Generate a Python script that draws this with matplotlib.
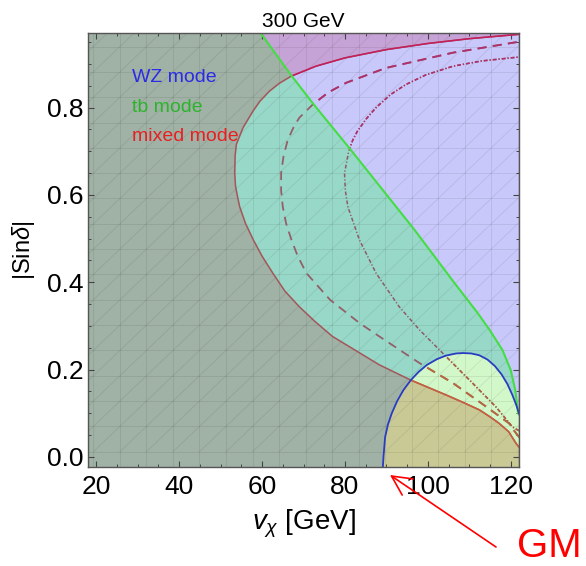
import numpy as np
import matplotlib
matplotlib.use('Agg')
import matplotlib.pyplot as plt
from matplotlib.patches import Polygon
from matplotlib.ticker import MultipleLocator

plt.rcParams['font.family'] = ['Liberation Sans', 'DejaVu Sans']
plt.rcParams['mathtext.fontset'] = 'custom'
plt.rcParams['mathtext.rm'] = 'Liberation Sans'
plt.rcParams['mathtext.it'] = 'Liberation Sans:italic'

# ---------------- data ----------------
title = "300 GeV"
xticks = [20, 40, 60, 80, 100, 120]
yticks = [0.0, 0.2, 0.4, 0.6, 0.8]
mode_labels = ["WZ mode", "tb mode", "mixed mode"]

# green boundary (tb mode): x as function of |sin delta|
green_y = [0.100, 0.153, 0.199, 0.245, 0.291, 0.330, 0.400, 0.520, 0.707, 0.807, 0.872, 0.969, 0.985]
green_x = [121.8, 121.1, 120.0, 118.0, 114.9, 112.0, 106.3, 96.8, 81.1, 72.5, 67.2, 59.8, 58.6]

# solid red boundary (mixed mode)
red_y = [0.020, 0.031, 0.058, 0.077, 0.092, 0.108, 0.125, 0.142, 0.176, 0.211, 0.276, 0.310,
         0.344, 0.380, 0.421, 0.460, 0.497, 0.535, 0.573, 0.600, 0.620, 0.650, 0.690, 0.716,
         0.754, 0.792, 0.815, 0.838, 0.856, 0.872, 0.895, 0.914, 0.933, 0.947, 0.958, 0.968]
red_x = [122.2, 121.3, 119.5, 117.2, 115.0, 112.4, 108.5, 104.4, 95.9, 88.3, 77.0, 72.8,
         69.0, 65.5, 62.6, 60.0, 57.9, 56.0, 54.6, 54.0, 53.6, 53.4, 53.5, 53.8,
         55.4, 57.8, 59.5, 61.8, 64.2, 67.0, 73.0, 80.0, 90.0, 100.0, 110.0, 122.0]

# dashed red curve
dash_y = [0.045, 0.054, 0.077, 0.115, 0.169, 0.215, 0.276, 0.306, 0.360, 0.421, 0.460, 0.497,
          0.535, 0.573, 0.610, 0.650, 0.690, 0.726, 0.757, 0.777, 0.807, 0.835, 0.857, 0.891,
          0.926, 0.951]
dash_x = [122.1, 121.3, 119.6, 114.1, 106.1, 98.0, 88.3, 83.6, 76.4, 70.7, 68.6, 67.1,
          65.8, 65.0, 64.6, 64.6, 65.2, 66.2, 67.7, 69.0, 72.2, 76.0, 80.3, 89.9,
          106.1, 122.0]

# dot-dashed red curve
dd_y = [0.060, 0.069, 0.115, 0.169, 0.230, 0.291, 0.344, 0.421, 0.497, 0.573, 0.610, 0.650,
        0.700, 0.726, 0.746, 0.775, 0.800, 0.830, 0.853, 0.875, 0.895, 0.907, 0.916]
dd_x = [122.0, 120.4, 116.4, 110.8, 104.4, 98.0, 93.1, 87.5, 83.5, 80.7, 80.1, 79.9,
        80.9, 81.9, 83.0, 85.2, 87.5, 91.0, 94.7, 99.5, 106.1, 113.0, 122.0]

# blue boundary (WZ mode), upper edge as function of v_chi
ell_x = [89.1, 89.3, 89.7, 90.4, 91.3, 92.6, 94.1, 95.9, 97.8, 99.8, 102.2, 104.3, 106.8,
         108.5, 110.5, 112.4, 114.4, 116.2, 117.8, 119.2, 120.4, 121.3, 122.2]
ell_y = [-0.030, 0.000, 0.046, 0.075, 0.100, 0.128, 0.153, 0.176, 0.195, 0.211, 0.224, 0.232, 0.237,
         0.238, 0.237, 0.233, 0.223, 0.208, 0.189, 0.167, 0.142, 0.120, 0.094]

# ---------------- colours ----------------
c_lav = '#C8C8FA'
c_purple = '#C6A3D6'
c_teal = '#98D8C8'
c_gray = '#A0B1A5'
c_lgreen = '#D2F7C9'
c_olive = '#C9C996'

XMIN, XMAX = 18, 122
YMIN, YMAX = -0.023, 0.971

fig = plt.figure(figsize=(5.86, 5.66), dpi=100)
ax = fig.add_axes([88 / 586, 99 / 566, 431 / 586, 434 / 566])
ax.set_xlim(XMIN, XMAX)
ax.set_ylim(YMIN, YMAX)
ax.set_facecolor(c_lav)

yg = np.linspace(-0.05, 1.0, 2000)
xg_b = np.interp(yg, green_y, green_x, left=140, right=green_x[-1])
xr_b = np.interp(yg, red_y, red_x, left=140, right=140)

ax.fill_betweenx(yg, 0, xg_b, color=c_teal, lw=0, zorder=1)
ax.fill_betweenx(yg, 0, np.minimum(xg_b, xr_b), color=c_gray, lw=0, zorder=1.1)
ax.fill_betweenx(yg, xg_b, xr_b, where=xr_b > xg_b, interpolate=True,
                 color=c_purple, lw=0, zorder=1.1)

# WZ-mode ellipse interior
xe = np.linspace(ell_x[0], ell_x[-1], 800)
ye = np.interp(xe, ell_x, ell_y)
ry = np.array(red_y)
rx = np.array(red_x)
low = ry < 0.62
red_low = np.interp(xe, rx[low][::-1], ry[low][::-1], left=1.0, right=0.0)
ax.fill_between(xe, -0.1, ye, color=c_lgreen, lw=0, zorder=1.2)
ax.fill_between(xe, -0.1, np.minimum(ye, red_low), color=c_olive, lw=0, zorder=1.3)

# mesh (triangulated grid)
mesh_kw = dict(color='k', alpha=0.07, lw=0.7, zorder=2)
hx, hy = 6.4, 0.058
for xv in np.arange(19.3, 122, hx):
    ax.axvline(xv, **mesh_kw)
for yv in np.arange(0.012, 0.98, hy):
    ax.axhline(yv, **mesh_kw)
for k in range(-25, 20):
    x0 = 19.3 + k * hx
    ax.plot([x0, x0 + 30 * hx], [0.012, 0.012 + 30 * hy], **mesh_kw)

# clip regions for line colouring
right_poly = Polygon(np.column_stack([np.r_[xg_b, 200, 200], np.r_[yg, 1.0, -0.05]]),
                     closed=True, transform=ax.transData)
ell_poly = Polygon(np.column_stack([np.r_[xe, 125, 88], np.r_[ye, -0.1, -0.1]]),
                   closed=True, transform=ax.transData)

curves = [
    (red_x, red_y, dict(lw=1.1, linestyle='-'), ('#A3575A', '#C8603C', '#C41E5C')),
    (dash_x, dash_y, dict(lw=1.3, linestyle=(0, (5, 3.5))), ('#93606A', '#B8683C', '#B0306E')),
    (dd_x, dd_y, dict(lw=1.1, linestyle=(0, (2.5, 1.3, 0.8, 1.3))), ('#8E5A64', '#B06040', '#B02E6A')),
]
for cx, cy, kw, cols in curves:
    ax.plot(cx, cy, color=cols[0], zorder=4, solid_joinstyle='round', **kw)
    l2, = ax.plot(cx, cy, color=cols[1], zorder=4.1, solid_joinstyle='round', **kw)
    l2.set_clip_path(ell_poly)
    l3, = ax.plot(cx, cy, color=cols[2], zorder=4.2, solid_joinstyle='round', **kw)
    l3.set_clip_path(right_poly)

ax.plot(green_x, green_y, color='#44DD44', lw=1.5, zorder=5, solid_joinstyle='round')
ax.plot(ell_x, ell_y, color='#2A3CC0', lw=1.3, zorder=5, solid_joinstyle='round')

# legend-like labels
ax.text(28.6, 0.869, mode_labels[0], color='#2B2BE6', fontsize=14, va='center', ha='left', zorder=6)
ax.text(28.6, 0.800, mode_labels[1], color='#2DB42D', fontsize=14, va='center', ha='left', zorder=6)
ax.text(28.6, 0.733, mode_labels[2], color='#E82020', fontsize=14, va='center', ha='left', zorder=6)

# axes styling
ax.set_xticks(xticks)
ax.set_yticks(yticks)
ax.set_xticklabels([str(t) for t in xticks])
ax.set_yticklabels([f"{t:.1f}" for t in yticks])
ax.xaxis.set_minor_locator(MultipleLocator(5))
ax.yaxis.set_minor_locator(MultipleLocator(0.05))
ax.tick_params(which='both', direction='in', top=True, right=True, colors='#444444',
               labelcolor='black', labelsize=19)
ax.tick_params(which='major', length=4, width=0.8)
ax.tick_params(axis='x', which='major', pad=6)
ax.tick_params(axis='y', which='major', pad=3)
ax.tick_params(which='minor', length=2.2, width=0.7)
for s in ax.spines.values():
    s.set_color('#555555')
    s.set_linewidth(1.0)
    s.set_zorder(7)

ax.set_title(title, fontsize=15, pad=4)
ax.set_ylabel(r'|Sin$\delta$|', fontsize=17, labelpad=7)
ax.set_xlabel(r'$v_{\chi}$ [GeV]', fontsize=20, labelpad=6)

# GM annotation
ax.annotate('', xy=(390, 566 - 475), xycoords='figure pixels',
            xytext=(496, 566 - 547), textcoords='figure pixels',
            arrowprops=dict(arrowstyle='->, head_length=0.7, head_width=0.35',
                            color='red', lw=1.2, shrinkA=0, shrinkB=0, mutation_scale=20),
            annotation_clip=False)
fig.text(549 / 586, 20 / 566, 'GM', color='red', fontsize=29, ha='center', va='center')

fig.savefig('out.png', dpi=100)
